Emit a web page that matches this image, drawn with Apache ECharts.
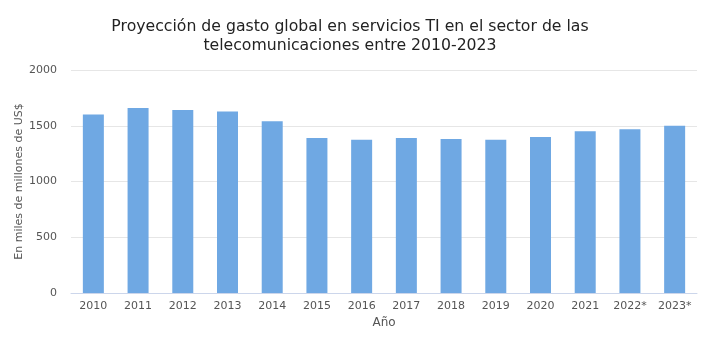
<!DOCTYPE html>
<html><head><meta charset="utf-8">
<script src="https://cdn.jsdelivr.net/npm/echarts@6/dist/echarts.min.js"></script>
<style>html,body{margin:0;padding:0;background:#fff}#c{width:720px;height:340px}</style>
</head><body><div id="c"></div>
<script>
const categories = ["2010","2011","2012","2013","2014","2015","2016","2017","2018","2019","2020","2021","2022*","2023*"];
const values = [1600,1660,1642,1628,1540,1390,1375,1390,1381,1375,1399,1450,1468,1501];
const yTicks = [0,500,1000,1500,2000];
const titleLines = ["Proyección de gasto global en servicios TI en el sector de las","telecomunicaciones entre 2010-2023"];
const yName = "En miles de millones de US$";
const xName = "Año";

const chart = echarts.init(document.getElementById('c'));
chart.setOption({
  animation:false,
  title:{text:titleLines.join('\n'),left:345,top:12,textAlign:'center',
    textStyle:{fontFamily:'DejaVu Sans',fontSize:15.7,fontWeight:'normal',color:'#222',lineHeight:19}},
  grid:{left:71,right:23,top:70,bottom:47},
  xAxis:{type:'category',data:categories,name:xName,nameLocation:'middle',nameGap:22,
    nameTextStyle:{color:'#555',fontSize:12,fontFamily:'DejaVu Sans'},
    axisLine:{lineStyle:{color:'#ccd6eb'}},axisTick:{show:false},
    axisLabel:{color:'#555',fontSize:11,fontFamily:'DejaVu Sans',margin:8}},
  yAxis:{type:'value',min:yTicks[0],max:yTicks[yTicks.length-1],interval:500,name:yName,nameLocation:'middle',nameGap:46,nameMoveOverlap:false,
    nameTextStyle:{color:'#555',fontSize:11,fontFamily:'DejaVu Sans'},
    axisLine:{show:false},axisTick:{show:false},
    axisLabel:{color:'#555',fontSize:11,fontFamily:'DejaVu Sans',margin:14,formatter:v=>String(v)},
    splitLine:{lineStyle:{color:'#e6e6e6'}}},
  series:[{type:'bar',data:values,barWidth:21,itemStyle:{color:'#6fa8e3'}}]
});
</script></body></html>
